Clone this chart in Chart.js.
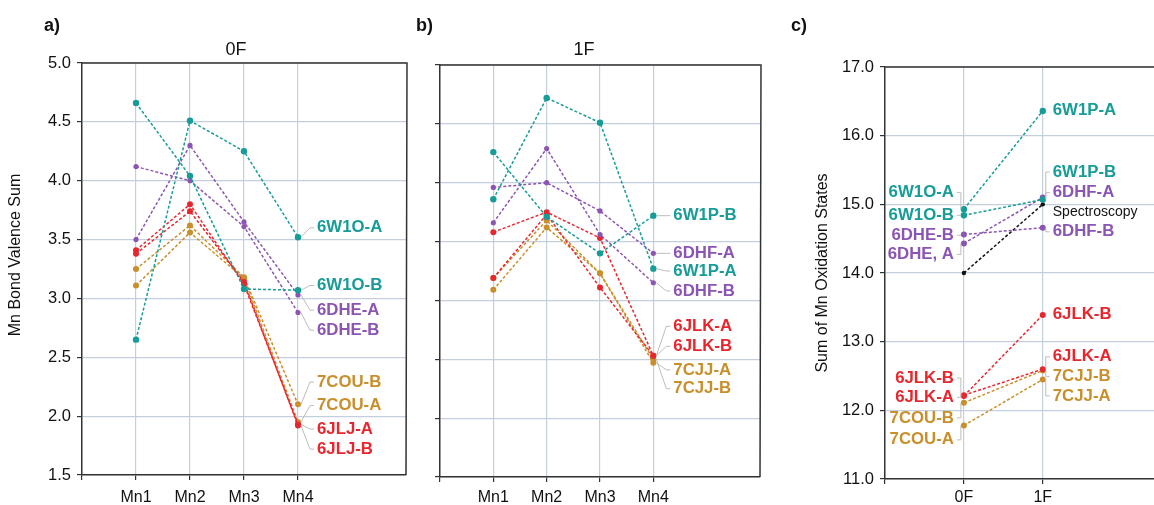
<!DOCTYPE html>
<html>
<head>
<meta charset="utf-8">
<script src="https://cdn.jsdelivr.net/npm/chart.js@4/dist/chart.umd.min.js"></script>
<style>
  html, body { margin: 0; background: #fff; }
  body { width: 1154px; height: 505px; overflow: hidden; position: relative; }
  .panel { position: absolute; top: 0; height: 505px; }
  #pa { left: 0; width: 410px; }
  #pb { left: 410px; width: 360px; }
  #pc { left: 770px; width: 430px; }
</style>
</head>
<body>
<div class="panel" id="pa"><canvas id="ca"></canvas></div>
<div class="panel" id="pb"><canvas id="cb"></canvas></div>
<div class="panel" id="pc"><canvas id="cc"></canvas></div>
<script>
const sites = ["Mn1", "Mn2", "Mn3", "Mn4"]
const states = ["0F", "1F"]

// a) bond valence sums, 0F
const w1oA = [2.65, 4.51, 4.25, 3.52]
const w1oB = [4.66, 4.04, 3.08, 3.07]
const dheA = [3.50, 4.30, 3.65, 3.03]
const dheB = [4.12, 4.00, 3.61, 2.88]
const couB = [3.25, 3.62, 3.18, 2.10]
const couA = [3.11, 3.56, 3.17, 1.95]
const jljA = [3.41, 3.80, 3.12, 1.93]
const jljB = [3.38, 3.74, 3.14, 1.92]

// b) bond valence sums, 1F
const w1pB = [4.26, 3.71, 3.40, 3.72]
const w1pA = [3.86, 4.72, 4.51, 3.27]
const dhfA = [3.96, 4.00, 3.76, 3.40]
const dhfB = [3.66, 4.29, 3.56, 3.15]
const jlkB = [3.58, 3.75, 3.53, 2.53]
const jlkA = [3.19, 3.73, 3.11, 2.53]
const cjjA = [3.09, 3.62, 3.23, 2.47]
const cjjB = [3.19, 3.68, 3.23, 2.50]

// c) sum of oxidation states, 0F -> 1F
const sumTealA = [14.93, 16.36]
const sumTealB = [14.84, 15.07]
const sumPurpA = [14.43, 15.10]
const sumPurpB = [14.56, 14.66]
const sumRedB = [12.21, 13.39]
const sumRedA = [12.22, 12.60]
const sumGoldB = [12.11, 12.58]
const sumGoldA = [11.78, 12.45]
const spectroscopy = [14.0, 15.0]

const TEAL = "#179c97"
const PURPLE = "#8b55b3"
const RED = "#e8262d"
const GOLD = "#c98f2c"
const BLACK = "#111"
const GRID = "#c4cfdd"
const AXIS = "#333"
const FONT = '"Liberation Sans", Arial, Helvetica, sans-serif'

function series(values, color, radius = 3) {
  return {
    data: values.map((v, i) => ({ x: i + 1, y: v })),
    borderColor: color,
    backgroundColor: color,
    borderDash: [3, 2],
    borderWidth: 1.5,
    pointRadius: radius,
    pointBorderWidth: 0,
    fill: false,
    tension: 0
  }
}

// text labels beside the end points, y given in axis units
const decorPlugin = {
  id: "decor",
  afterDatasetsDraw(chart, args, o) {
    const { ctx, chartArea: a, scales: { y } } = chart
    ctx.save()

    ;(o.labels || []).forEach(l => {
      const pt = chart.getDatasetMeta(l.ds).data[l.idx]
      const side = l.side || 1
      const ly = y.getPixelForValue(l.at)
      const tx = pt.x + side * o.gap
      if (l.line !== false) {
        ctx.strokeStyle = "#bdbdbd"
        ctx.lineWidth = 1
        ctx.setLineDash([])
        ctx.beginPath()
        ctx.moveTo(pt.x + side * 3, pt.y)
        ctx.lineTo(tx - side * 7, ly)
        ctx.lineTo(tx - side * 3, ly)
        ctx.stroke()
      }
      ctx.fillStyle = l.color
      ctx.font = l.plain ? `14px ${FONT}` : `bold 16.8px ${FONT}`
      ctx.textAlign = side > 0 ? "left" : "right"
      ctx.textBaseline = "middle"
      ctx.fillText(l.text, tx, ly)
    })

    // frame
    ctx.strokeStyle = AXIS
    ctx.lineWidth = 1.5
    ctx.beginPath()
    ctx.moveTo(a.left, a.top)
    ctx.lineTo(a.right + 1, a.top)
    if (o.rightBorder) ctx.lineTo(a.right, a.bottom)
    ctx.stroke()

    ctx.fillStyle = "#111"
    ctx.textBaseline = "middle"
    ctx.textAlign = "left"
    ctx.font = `bold 18px ${FONT}`
    ctx.fillText(o.letter, o.letterX, 26)

    if (o.title) {
      ctx.textAlign = "center"
      ctx.font = `18px ${FONT}`
      ctx.fillText(o.title, o.titleX, 50)
    }
    if (o.yTitle) {
      ctx.translate(o.yTitleX, (a.top + a.bottom) / 2 - o.yTitleShift)
      ctx.rotate(-Math.PI / 2)
      ctx.textAlign = "center"
      ctx.font = `16px ${FONT}`
      ctx.fillText(o.yTitle, 0, 0)
    }
    ctx.restore()
  }
}

function makeChart(id, cfg) {
  const xTicks = cfg.xLabels.map((_, i) => i).concat([cfg.xLabels.length])
  return new Chart(document.getElementById(id), {
    type: "line",
    data: { datasets: cfg.datasets },
    plugins: [decorPlugin],
    options: {
      responsive: true,
      maintainAspectRatio: false,
      animation: false,
      layout: { padding: { top: cfg.top, right: cfg.right, left: 0, bottom: 0 } },
      plugins: {
        legend: { display: false },
        tooltip: { enabled: false },
        decor: cfg.decor
      },
      scales: {
        x: {
          type: "linear",
          min: 0,
          max: cfg.xMax,
          afterBuildTicks: axis => { axis.ticks = xTicks.map(v => ({ value: v })) },
          afterFit: s => { s.height = cfg.xHeight },
          border: { color: AXIS, width: 1.5 },
          grid: {
            color: c => (c.tick && c.tick.value === 0 ? "rgba(0,0,0,0)" : GRID),
            lineWidth: 1.2,
            tickColor: AXIS,
            tickLength: 5
          },
          ticks: {
            autoSkip: false,
            maxRotation: 0,
            padding: cfg.xPad,
            color: "#111",
            font: { family: FONT, size: 16 },
            callback: v => cfg.xLabels[v - 1] || ""
          }
        },
        y: {
          min: cfg.yMin,
          max: cfg.yMax,
          afterFit: s => { s.width = cfg.yWidth },
          border: { color: AXIS, width: 1.5 },
          grid: { color: GRID, lineWidth: 1.2, tickColor: AXIS, tickLength: 5 },
          ticks: {
            display: cfg.yLabels,
            stepSize: cfg.yStep,
            padding: 6,
            color: "#111",
            font: { family: FONT, size: 16.5 },
            callback: v => v.toFixed(1)
          }
        }
      }
    }
  })
}

makeChart("ca", {
  xLabels: sites, xMax: 6, yMin: 1.5, yMax: 5, yStep: 0.5, yLabels: true,
  yWidth: 82, right: 4, top: 63, xHeight: 30, xPad: 8,
  datasets: [
    series(w1oA, TEAL, 3.2), series(w1oB, TEAL, 3.2),
    series(dheA, PURPLE, 2.6), series(dheB, PURPLE, 2.6),
    series(jljA, RED, 3), series(jljB, RED, 3),
    series(couB, GOLD, 3), series(couA, GOLD, 3)
  ],
  decor: {
    letter: "a)", letterX: 44, title: "0F", titleX: 236,
    yTitle: "Mn Bond Valence Sum", yTitleX: 16, yTitleShift: 14,
    rightBorder: true, gap: 19,
    labels: [
      { text: "6W1O-A", ds: 0, idx: 3, at: 3.60, color: TEAL },
      { text: "6W1O-B", ds: 1, idx: 3, at: 3.11, color: TEAL },
      { text: "6DHE-A", ds: 2, idx: 3, at: 2.90, color: PURPLE },
      { text: "6DHE-B", ds: 3, idx: 3, at: 2.73, color: PURPLE },
      { text: "7COU-B", ds: 6, idx: 3, at: 2.29, color: GOLD },
      { text: "7COU-A", ds: 7, idx: 3, at: 2.09, color: GOLD },
      { text: "6JLJ-A", ds: 4, idx: 3, at: 1.89, color: RED },
      { text: "6JLJ-B", ds: 5, idx: 3, at: 1.72, color: RED }
    ]
  }
})

makeChart("cb", {
  xLabels: sites, xMax: 6, yMin: 1.5, yMax: 5, yStep: 0.5, yLabels: false,
  yWidth: 30, right: 10, top: 65, xHeight: 28, xPad: 6,
  datasets: [
    series(w1pB, TEAL, 3.2), series(w1pA, TEAL, 3.2),
    series(dhfA, PURPLE, 2.6), series(dhfB, PURPLE, 2.6),
    series(jlkA, RED, 3), series(jlkB, RED, 3),
    series(cjjA, GOLD, 3), series(cjjB, GOLD, 3)
  ],
  decor: {
    letter: "b)", letterX: 6, title: "1F", titleX: 174,
    rightBorder: true, gap: 20,
    labels: [
      { text: "6W1P-B", ds: 0, idx: 3, at: 3.72, color: TEAL },
      { text: "6DHF-A", ds: 2, idx: 3, at: 3.40, color: PURPLE },
      { text: "6W1P-A", ds: 1, idx: 3, at: 3.25, color: TEAL },
      { text: "6DHF-B", ds: 3, idx: 3, at: 3.08, color: PURPLE },
      { text: "6JLK-A", ds: 4, idx: 3, at: 2.78, color: RED },
      { text: "6JLK-B", ds: 5, idx: 3, at: 2.61, color: RED },
      { text: "7CJJ-A", ds: 6, idx: 3, at: 2.41, color: GOLD },
      { text: "7CJJ-B", ds: 7, idx: 3, at: 2.25, color: GOLD }
    ]
  }
})

makeChart("cc", {
  xLabels: states, xMax: 3.6, yMin: 11, yMax: 17, yStep: 1, yLabels: true,
  yWidth: 115, right: 31, top: 67, xHeight: 26, xPad: 4,
  datasets: [
    series(sumTealA, TEAL, 3.2), series(sumTealB, TEAL, 3.2),
    series(sumPurpA, PURPLE, 3), series(sumPurpB, PURPLE, 3),
    series(sumRedB, RED, 3), series(sumRedA, RED, 3),
    series(sumGoldB, GOLD, 3), series(sumGoldA, GOLD, 3),
    series(spectroscopy, BLACK, 2.2)
  ],
  decor: {
    letter: "c)", letterX: 21,
    yTitle: "Sum of Mn Oxidation States", yTitleX: 53, yTitleShift: 0,
    rightBorder: false, gap: 10,
    labels: [
      { text: "6W1O-A", ds: 0, idx: 0, at: 15.17, color: TEAL, side: -1 },
      { text: "6W1O-B", ds: 1, idx: 0, at: 14.84, color: TEAL, side: -1 },
      { text: "6DHE-B", ds: 3, idx: 0, at: 14.55, color: PURPLE, side: -1 },
      { text: "6DHE, A", ds: 2, idx: 0, at: 14.27, color: PURPLE, side: -1 },
      { text: "6JLK-B", ds: 4, idx: 0, at: 12.47, color: RED, side: -1 },
      { text: "6JLK-A", ds: 5, idx: 0, at: 12.19, color: RED, side: -1 },
      { text: "7COU-B", ds: 6, idx: 0, at: 11.89, color: GOLD, side: -1 },
      { text: "7COU-A", ds: 7, idx: 0, at: 11.57, color: GOLD, side: -1 },
      { text: "6W1P-A", ds: 0, idx: 1, at: 16.37, color: TEAL, line: false },
      { text: "6W1P-B", ds: 1, idx: 1, at: 15.47, color: TEAL },
      { text: "6DHF-A", ds: 2, idx: 1, at: 15.17, color: PURPLE },
      { text: "Spectroscopy", ds: 8, idx: 1, at: 14.88, color: BLACK, line: false, plain: true },
      { text: "6DHF-B", ds: 3, idx: 1, at: 14.60, color: PURPLE },
      { text: "6JLK-B", ds: 4, idx: 1, at: 13.40, color: RED, line: false },
      { text: "6JLK-A", ds: 5, idx: 1, at: 12.78, color: RED },
      { text: "7CJJ-B", ds: 6, idx: 1, at: 12.49, color: GOLD },
      { text: "7CJJ-A", ds: 7, idx: 1, at: 12.21, color: GOLD }
    ]
  }
})
</script>
</body>
</html>
